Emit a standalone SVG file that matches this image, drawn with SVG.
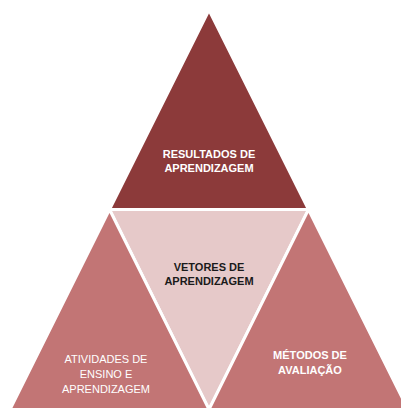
<svg xmlns="http://www.w3.org/2000/svg" width="401" height="409" viewBox="0 0 401 409">
<style>
.tri{stroke:#fff;stroke-width:3;stroke-linejoin:miter}
.dark{fill:#8C3A3A}
.side{fill:#C27575}
.light{fill:#E6C9C9}
text{font-family:"Liberation Sans",Arial,sans-serif;font-size:11px;text-anchor:middle}
.b{font-weight:bold}
.w{fill:#fff}
.k{fill:#1a1a1a}
</style>
<rect width="401" height="409" fill="#fff"/>
<g id="resultados">
<polygon class="tri dark" points="209,10 109.5,209.5 308.5,209.5"/>
<text class="b w" x="209" y="158">RESULTADOS DE</text>
<text class="b w" x="209" y="172">APRENDIZAGEM</text>
</g>
<g id="vetores">
<polygon class="tri light" points="109.5,209.5 308.5,209.5 209,409.5"/>
<text class="b k" x="209" y="271">VETORES DE</text>
<text class="b k" x="209" y="285">APRENDIZAGEM</text>
</g>
<g id="atividades">
<polygon class="tri side" points="109.5,209.5 209,409.5 10,409.5"/>
<text class="w" x="106" y="363">ATIVIDADES DE</text>
<text class="w" x="106" y="378">ENSINO E</text>
<text class="w" x="106" y="393">APRENDIZAGEM</text>
</g>
<g id="metodos">
<polygon class="tri side" points="308.5,209.5 408,409.5 209,409.5"/>
<text class="b w" x="310" y="359">MÉTODOS DE</text>
<text class="b w" x="310" y="374">AVALIAÇÃO</text>
</g>
<g id="connectors"></g>
</svg>
